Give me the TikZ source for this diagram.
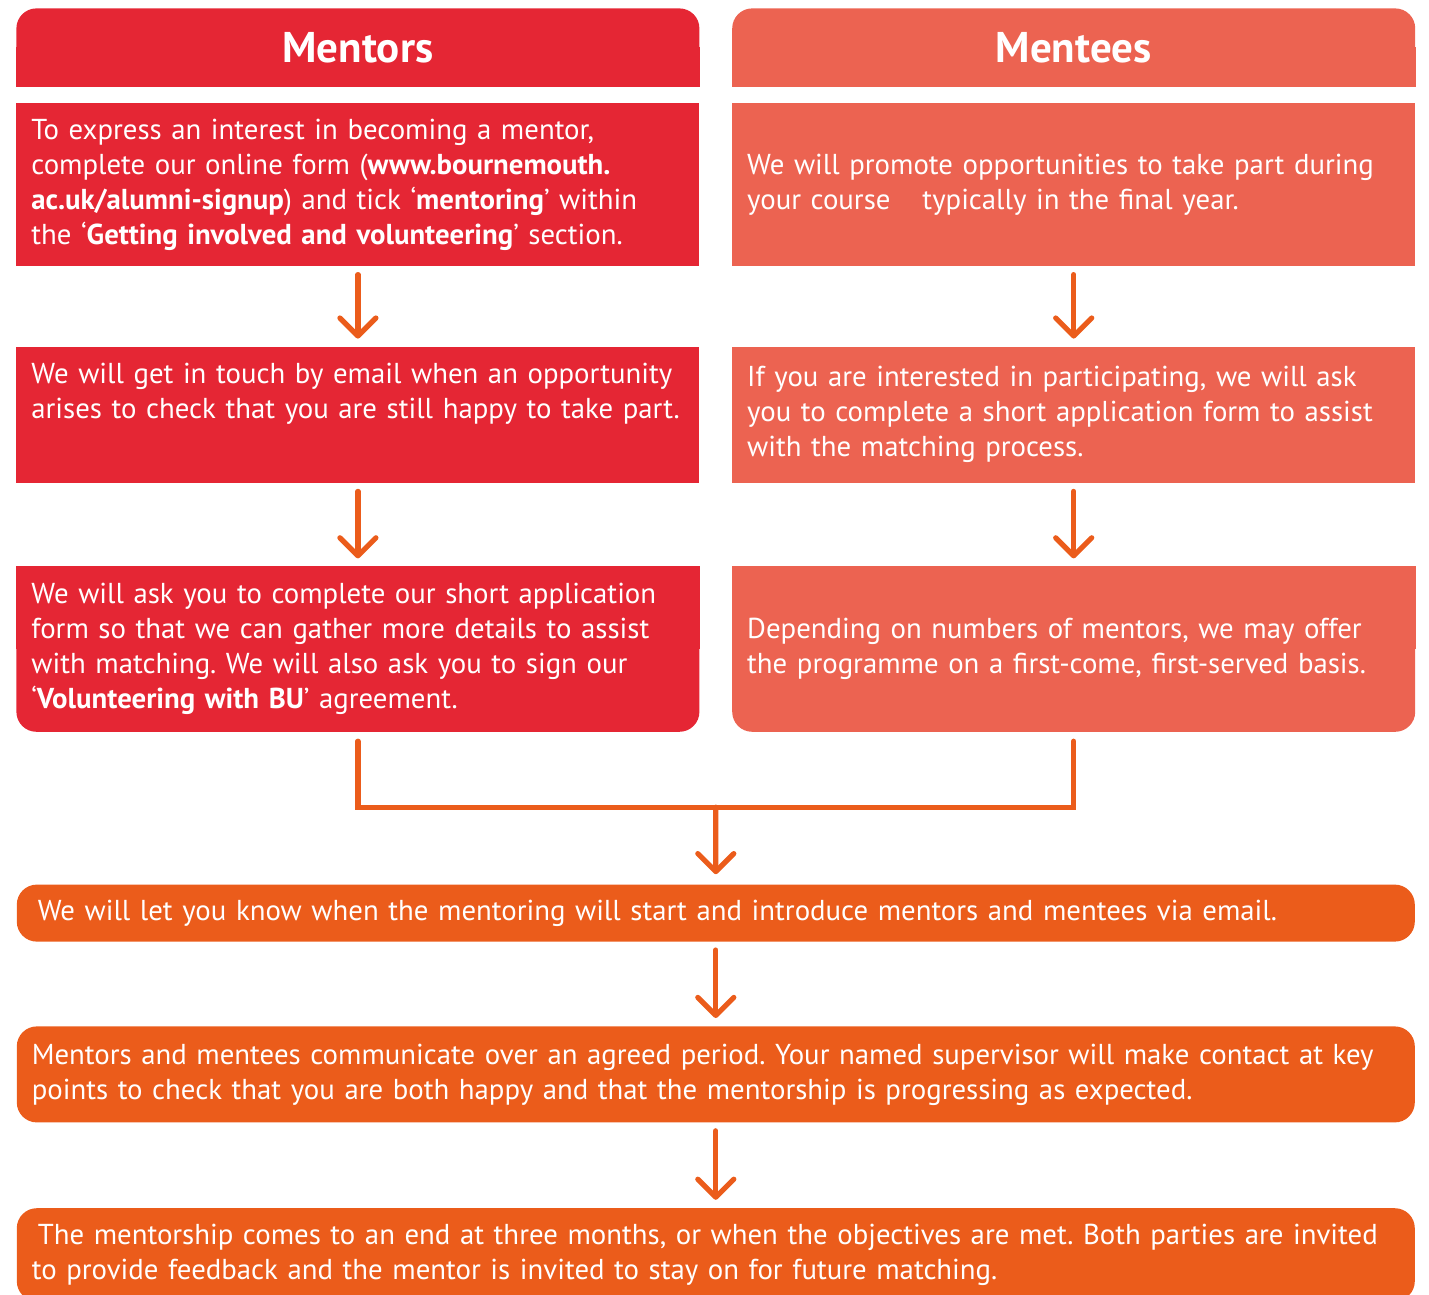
\documentclass[tikz,border=0pt]{standalone}
\usepackage{fontspec}
\setmainfont{PT Sans}
\usetikzlibrary{arrows.meta,positioning,calc,backgrounds}
\definecolor{bmRed}{HTML}{E52634}
\definecolor{bmSalmon}{HTML}{EC6351}
\definecolor{bmOrange}{HTML}{EB5C1B}
\frenchspacing

\begin{document}
\begin{tikzpicture}[x=0.5pt,y=-0.5pt,
  box/.style={fill=#1,text=white,align=left,inner xsep=7.5pt,inner ysep=0pt,
    font=\fontsize{14.4}{17.5}\selectfont,rounded corners=10pt},
  col/.style={box=#1,text width=326.5pt,minimum width=341.5pt},
  wide/.style={box=bmOrange,text width=684pt,minimum width=699pt},
  head/.style={col=#1,align=center,font=\fontsize{21.5}{24}\selectfont\bfseries,minimum height=39pt},
  arr/.style={draw=bmOrange,line width=2.6pt,line cap=round,-{Straight Barb[round,length=9pt,width=18pt]}},
  bar/.style={draw=bmOrange,line width=2.6pt,line cap=round}]
  \useasboundingbox (0,0) rectangle (1429,1295);
  \node[head=bmRed,anchor=north west] (hm) at (16,8) {Mentors};
  \node[head=bmSalmon,right=16pt of hm] (he) {Mentees};
  \node[col=bmRed,sharp corners,minimum height=81.5pt,below=8pt of hm] (m1)
    {To express an interest in becoming a mentor,\\complete our online form (\textbf{www.bournemouth.}\\
    \textbf{ac.uk/alumni-signup}) and tick ‘\textbf{mentoring}’ within\\the ‘\textbf{Getting involved and volunteering}’ section.};
  \node[col=bmSalmon,sharp corners,minimum height=81.5pt,below=8pt of he] (e1)
    {We will promote opportunities to take part during\\your course\hspace{16pt}typically in the final year.};
  \node[col=bmRed,sharp corners,minimum height=68pt,below=40pt of m1] (m2)
    {We will get in touch by email when an opportunity\\arises to check that you are still happy to take part.\\[7pt]\mbox{}};
  \node[col=bmSalmon,sharp corners,minimum height=68pt,below=40pt of e1] (e2)
    {If you are interested in participating, we will ask\\you to complete a short application form to assist\\with the matching process.\\[-13.5pt]\mbox{}};
  \node[col=bmRed,minimum height=82.5pt,below=41.5pt of m2] (m3)
    {We will ask you to complete our short application\\form so that we can gather more details to assist\\
    with matching. We will also ask you to sign our\\‘\textbf{Volunteering with BU}’ agreement.};
  \node[col=bmSalmon,minimum height=82.5pt,below=41.5pt of e2] (e3)
    {Depending on numbers of mentors, we may offer\\the programme on a first-come, first-served basis.};
  \node[wide,minimum height=28.5pt,below=76pt of $(m3.south east)!.5!(e3.south west)$] (w1)
    {\hspace*{3pt}We will let you know when the mentoring will start and introduce mentors and mentees via email.};
  \node[wide,minimum height=48pt,below=42pt of w1] (w2)
    {Mentors and mentees communicate over an agreed period. Your named supervisor will make contact at key\\
    points to check that you are both happy and that the mentorship is progressing as expected.};
  \node[wide,minimum height=46.5pt,below=42.5pt of w2] (w3)
    {\hspace*{3pt}The mentorship comes to an end at three months, or when the objectives are met. Both parties are invited\\
    to provide feedback and the mentor is invited to stay on for future matching.};
  % square off the corners that are not rounded
  \begin{scope}[on background layer]
    \fill[bmRed] (hm.west) rectangle (hm.south east);
    \fill[bmSalmon] (he.west) rectangle (he.south east);
    \fill[bmRed] (m3.north west) rectangle (m3.east);
    \fill[bmSalmon] (e3.north west) rectangle (e3.east);
  \end{scope}
  \foreach \a/\b in {m1/m2,m2/m3,e1/e2,e2/e3,w1/w2,w2/w3}
    \draw[arr,shorten <=4pt,shorten >=4pt] (\a) -- (\b);
  \coordinate (j) at ($(m3.south)!.5!(e3.south)+(0pt,-37.5pt)$);
  \draw[bar] ([yshift=-4.5pt]m3.south) |- (j) -| ([yshift=-4.5pt]e3.south);
  \draw[arr,shorten >=5pt] (j) -- (w1);
\end{tikzpicture}
\end{document}
